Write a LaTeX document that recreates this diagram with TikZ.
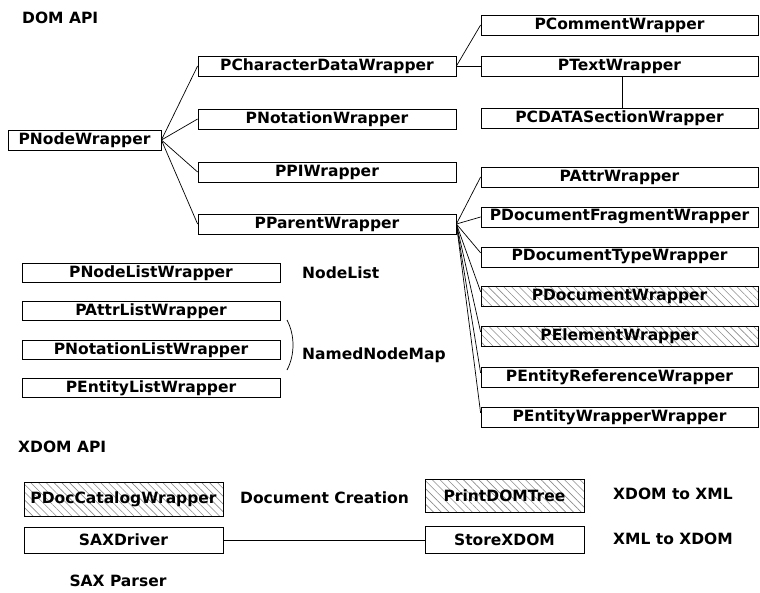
\documentclass[tikz,border=0pt]{standalone}
\usepackage{fontspec}
\setmainfont{DejaVu Sans}
\usetikzlibrary{patterns.meta,calc}
\begin{document}
\begin{tikzpicture}[x=1pt,y=-1pt,
  txt/.style={font=\fontsize{15.5}{18}\selectfont\bfseries},
  box/.style={txt, draw=black, line width=0.8pt, inner sep=0pt, minimum height=20pt},
  mid/.style={box, minimum width=258pt},
  rt/.style={box, minimum width=277pt},
  lst/.style={box, minimum width=258pt, minimum height=19pt},
  hatch/.style={pattern={Lines[angle=-45,distance=5.5pt,line width=0.6pt]}, pattern color=black!45},
  lbl/.style={txt, inner sep=0pt, anchor=west},
  conn/.style={line width=0.7pt}]
\useasboundingbox (0,0) rectangle (760,592);

% DOM API
\node[lbl] (domapi) at (22,18) {DOM API};
\node[box, minimum width=153pt] (nodew) at (84.5,140) {PNodeWrapper};
\node[mid] (chard) at (327,66) {PCharacterDataWrapper};
\node[mid] (notat) at (327,119) {PNotationWrapper};
\node[mid] (ppi) at (327,172) {PPIWrapper};
\node[mid] (parent) at (327,224) {PParentWrapper};
\node[rt] (comment) at (619.5,25) {PCommentWrapper};
\node[rt] (ptext) at (619.5,66) {PTextWrapper};
\node[rt] (cdata) at (619.5,118) {PCDATASectionWrapper};
\node[rt] (attr) at (619.5,177) {PAttrWrapper};
\node[rt] (docfrag) at (619.5,217) {PDocumentFragmentWrapper};
\node[rt] (doctype) at (619.5,257) {PDocumentTypeWrapper};
\node[rt,hatch] (document) at (619.5,296) {PDocumentWrapper};
\node[rt,hatch] (element) at (619.5,336) {PElementWrapper};
\node[rt] (entref) at (619.5,377) {PEntityReferenceWrapper};
\node[rt] (entwrap) at (619.5,417) {PEntityWrapperWrapper};

\foreach \t in {chard,notat,ppi,parent} \draw[conn] (nodew.east) -- (\t.west);
\draw[conn] (chard.east) -- (comment.west);
\draw[conn] (chard.east) -- (ptext.west);
\draw[conn] ([xshift=3pt]ptext.south) -- ([xshift=3pt]cdata.north);
\draw[conn] (parent.east) -- (attr.west);
\draw[conn] (parent.east) -- (docfrag.west);
\foreach \t in {doctype,document,element,entref,entwrap}
  \draw[conn] (parent.east) -- ($(\t.north west)!0.3!(\t.south west)$);

% lists
\node[lst] (nodelist) at (151,273) {PNodeListWrapper};
\node[lst] (attrlist) at (151,311) {PAttrListWrapper};
\node[lst] (notlist) at (151,350) {PNotationListWrapper};
\node[lst] (entlist) at (151,388) {PEntityListWrapper};
\node[lbl] (nl) at (302,273) {NodeList};
\node[lbl] (nnm) at (302,355) {NamedNodeMap};
\coordinate (brtop) at (287,320);
\coordinate (brbot) at (287,370);
\draw[conn] (brtop) .. controls (295,335) and (295,355) .. (brbot);

% XDOM API
\node[lbl] (xdomapi) at (18,447) {XDOM API};
\node[box,hatch,minimum width=199pt,minimum height=34pt] (doccat) at (123.5,499) {PDocCatalogWrapper};
\node[lbl] (doccr) at (240,498) {Document Creation};
\node[box,hatch,minimum width=159pt,minimum height=33pt] (print) at (504.5,495.5) {PrintDOMTree};
\node[lbl] (x2x) at (613,494) {XDOM to XML};
\node[box,minimum width=199pt,minimum height=26pt] (sax) at (123.5,540) {SAXDriver};
\node[box,minimum width=159pt,minimum height=27pt] (store) at (504.5,540) {StoreXDOM};
\node[lbl] (x2xd) at (613,539) {XML to XDOM};
\node[txt,inner sep=0pt] (saxp) at (118,581) {SAX Parser};
\draw[conn] (sax) -- (store);
\end{tikzpicture}
\end{document}
